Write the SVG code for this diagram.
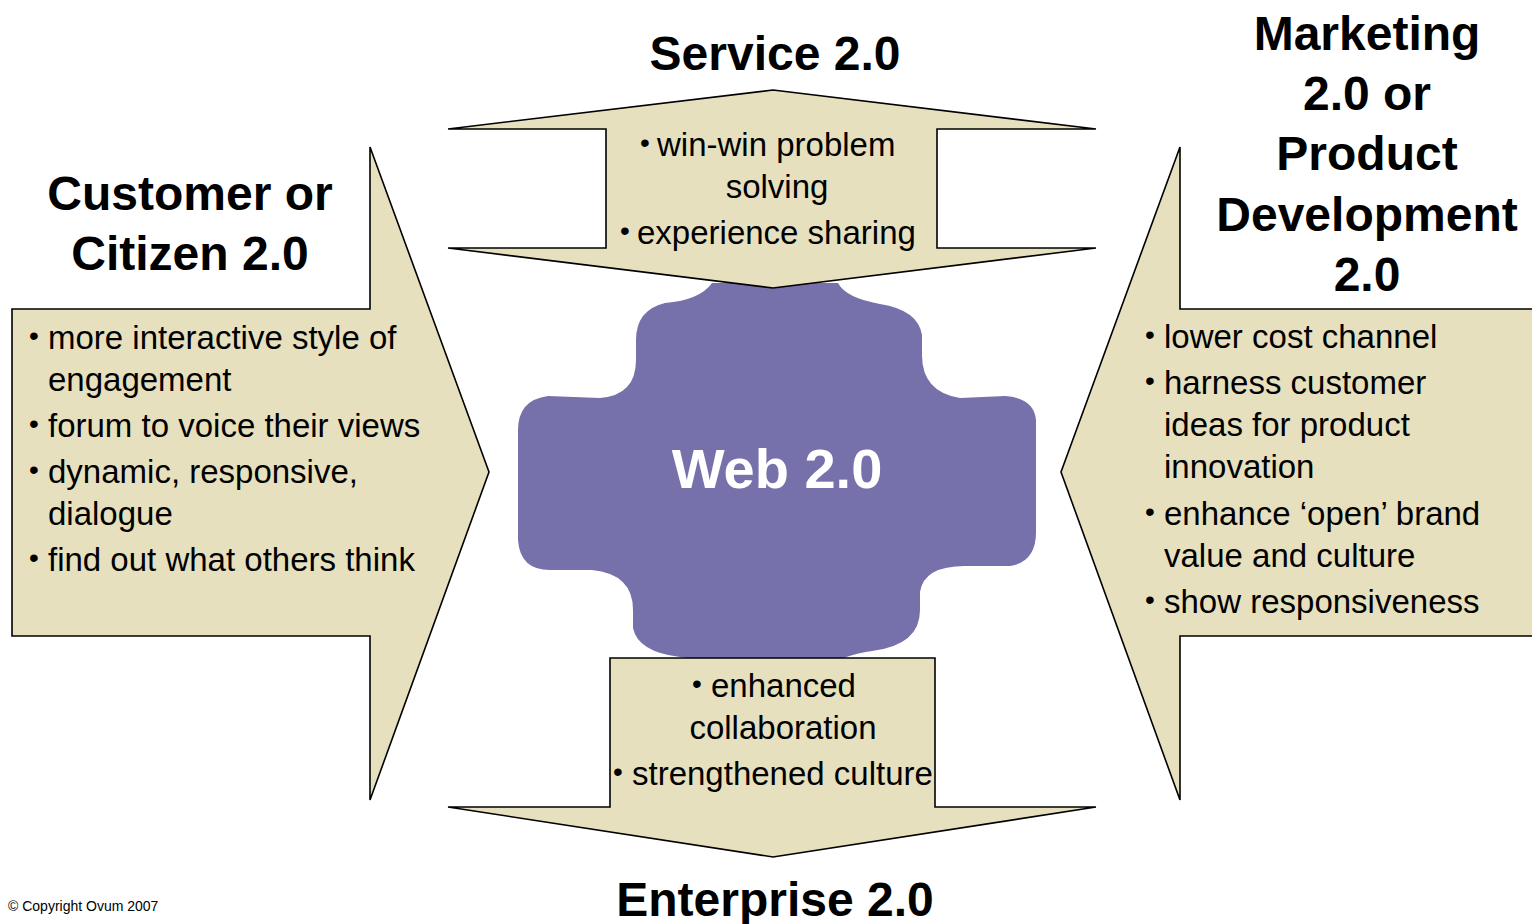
<svg xmlns="http://www.w3.org/2000/svg" width="1532" height="924" viewBox="0 0 1532 924">
<style>
.arrow{fill:#E6E0BE;stroke:#000;stroke-width:1.6;stroke-linejoin:miter}
.title{font-family:"Liberation Sans",Arial,sans-serif;font-weight:bold;font-size:48px;fill:#000;text-anchor:middle}
.body{font-family:"Liberation Sans",Arial,sans-serif;font-size:33px;fill:#000}
.bul{font-family:"Liberation Sans",Arial,sans-serif;font-size:28px;fill:#000}
.mid{text-anchor:middle}
</style>
<rect width="1532" height="924" fill="#fff"/>
<g id="web20">
<path d="M712 283 Q700 300 665 303 Q636 310 636 340 L636 360 Q636 395 600 398 L548 396 Q518 400 518 430 L518 540 Q520 570 550 570 L592 570 Q633 574 633 610 L633 628 Q638 652 680 657 Q702 660 706 666 L830 666 Q840 656 872 651 Q920 645 920 610 L920 592 Q924 566 965 566 L1010 566 Q1036 562 1036 532 L1036 420 Q1034 398 1005 396 L960 398 Q922 392 922 355 L922 335 Q918 310 880 304 Q846 298 838 283 Z" fill="#7670AB"/>
<text x="777" y="488" class="title" style="font-size:56px;fill:#fff">Web 2.0</text>
</g>
<g id="connectors">
<polygon id="left-arrow" class="arrow" points="12,309 370,309 370,147 489,472 370,800 370,636 12,636"/>
<polygon id="right-arrow" class="arrow" points="1534,309 1180,309 1180,147 1061,472 1180,800 1180,636 1534,636"/>
<polygon id="top-arrow" class="arrow" points="448,129 773,90 1096,129 937,129 937,248 1096,248 773,288 448,248 606,248 606,129"/>
<polygon id="bottom-arrow" class="arrow" points="610,658 935,658 935,807 1096,807 773,857 448,807 610,807"/>
</g>
<g id="service">
<text x="775" y="70" class="title">Service 2.0</text>
<text x="640" y="152" class="bul">•</text>
<text x="657" y="156" class="body">win-win problem</text>
<text x="777" y="198" class="body mid">solving</text>
<text x="620" y="240" class="bul">•</text>
<text x="637" y="244" class="body">experience sharing</text>
</g>
<g id="customer">
<text x="190" y="210" class="title">Customer or</text>
<text x="190" y="270" class="title">Citizen 2.0</text>
<text x="29" y="345" class="bul">•</text>
<text x="48" y="349" class="body">more interactive style of</text>
<text x="48" y="391" class="body">engagement</text>
<text x="29" y="433" class="bul">•</text>
<text x="48" y="437" class="body">forum to voice their views</text>
<text x="29" y="479" class="bul">•</text>
<text x="48" y="483" class="body">dynamic, responsive,</text>
<text x="48" y="525" class="body">dialogue</text>
<text x="29" y="567" class="bul">•</text>
<text x="48" y="571" class="body">find out what others think</text>
</g>
<g id="marketing">
<text x="1367" y="50" class="title">Marketing</text>
<text x="1367" y="110" class="title">2.0 or</text>
<text x="1367" y="170" class="title">Product</text>
<text x="1367" y="231" class="title">Development</text>
<text x="1367" y="291" class="title">2.0</text>
<text x="1145" y="344" class="bul">•</text>
<text x="1164" y="348" class="body">lower cost channel</text>
<text x="1145" y="390" class="bul">•</text>
<text x="1164" y="394" class="body">harness customer</text>
<text x="1164" y="436" class="body">ideas for product</text>
<text x="1164" y="478" class="body">innovation</text>
<text x="1145" y="521" class="bul">•</text>
<text x="1164" y="525" class="body">enhance ‘open’ brand</text>
<text x="1164" y="567" class="body">value and culture</text>
<text x="1145" y="609" class="bul">•</text>
<text x="1164" y="613" class="body">show responsiveness</text>
</g>
<g id="enterprise">
<text x="775" y="916" class="title">Enterprise 2.0</text>
<text x="692" y="693" class="bul">•</text>
<text x="711" y="697" class="body">enhanced</text>
<text x="783" y="739" class="body mid">collaboration</text>
<text x="613" y="781" class="bul">•</text>
<text x="632" y="785" class="body">strengthened culture</text>
</g>
<text id="copyright" x="8" y="911" style="font-family:'Liberation Sans',Arial,sans-serif;font-size:14px;fill:#000">© Copyright Ovum 2007</text>
</svg>
